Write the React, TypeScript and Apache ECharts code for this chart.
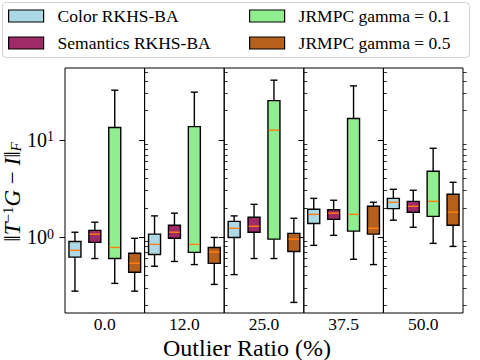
import React, { useEffect, useRef } from 'react';
import * as echarts from 'echarts';

// ---- data ----
const outlierRatios = ['0.0', '12.0', '25.0', '37.5', '50.0'];
const methods = ['Color RKHS-BA', 'Semantics RKHS-BA', 'JRMPC gamma = 0.1', 'JRMPC gamma = 0.5'];
const methodColors = ['#add8e6', '#9e2a67', '#90ee90', '#b5611d'];
// each entry: [min, q1, median, q3, max] per outlier ratio
const colorRkhs = [
  [0.277, 0.62, 0.73, 0.9, 1.12],
  [0.5, 0.66, 0.84, 1.07, 1.65],
  [0.41, 0.99, 1.23, 1.45, 1.65],
  [0.82, 1.38, 1.71, 1.93, 2.5],
  [1.49, 1.96, 2.28, 2.5, 3.1],
];
const semanticsRkhs = [
  [0.6, 0.88, 1.07, 1.17, 1.42],
  [0.56, 0.97, 1.12, 1.32, 1.76],
  [0.6, 1.12, 1.29, 1.6, 2.17],
  [1.04, 1.52, 1.76, 1.91, 2.39],
  [1.26, 1.8, 2.07, 2.33, 3.03],
];
const jrmpcGamma01 = [
  [0.333, 0.6, 0.78, 13.4, 32.5],
  [0.52, 0.695, 0.84, 13.7, 31],
  [0.6, 0.95, 12.6, 25.4, 41.2],
  [0.59, 1.15, 1.71, 16.6, 36],
  [0.86, 1.63, 2.33, 4.76, 8.2],
];
const jrmpcGamma05 = [
  [0.277, 0.433, 0.536, 0.68, 0.97],
  [0.325, 0.535, 0.7, 0.78, 0.99],
  [0.212, 0.71, 0.95, 1.09, 1.56],
  [0.52, 1.07, 1.23, 2.07, 2.28],
  [0.8, 1.32, 1.8, 2.76, 3.66],
];
const seriesData = [colorRkhs, semanticsRkhs, jrmpcGamma01, jrmpcGamma05];
const yMajorTicks = [1, 10];
const yMinorTicks = [0.2, 0.3, 0.4, 0.5, 0.6, 0.7, 0.8, 0.9, 2, 3, 4, 5, 6, 7, 8, 9, 20, 30, 40, 50];
const yMin = 0.165;
const yMax = 55;

const FONT = 'Liberation Serif';

export default function App() {
  const ref = useRef<HTMLDivElement>(null);
  useEffect(() => {
    if (!ref.current) return;
    const chart = echarts.init(ref.current, null, { renderer: 'svg' });
    const plotLeft = 65;
    const plotRight = 463;
    const top = 68;
    const bottom = 313;
    const panelW = (plotRight - plotLeft) / outlierRatios.length;

    const grids: any[] = [];
    const xAxes: any[] = [];
    const yAxes: any[] = [];
    const series: any[] = [];

    outlierRatios.forEach((ratio, i) => {
      grids.push({
        left: plotLeft + i * panelW,
        top,
        width: panelW,
        height: bottom - top,
        show: true,
        borderColor: '#000',
        borderWidth: 1,
        backgroundColor: 'transparent',
      });
      xAxes.push({
        type: 'category',
        gridIndex: i,
        data: methods,
        boundaryGap: true,
        axisLine: { show: false },
        axisTick: { show: false },
        axisLabel: { show: false },
        splitLine: { show: false },
        name: ratio,
        nameLocation: 'middle',
        nameGap: 3,
        nameTextStyle: { fontFamily: FONT, fontSize: 17.5, color: '#000', verticalAlign: 'top', lineHeight: 16 },
      });
      yAxes.push({
        type: 'log',
        logBase: 10,
        gridIndex: i,
        min: yMin,
        max: yMax,
        axisLine: { show: false },
        splitLine: { show: false },
        axisTick: { show: true, length: 5.5, customValues: yMajorTicks, lineStyle: { color: '#000', width: 1 } },
        axisLabel: {
          show: i === 0,
          customValues: yMajorTicks,
          margin: 11,
          formatter: (v: number) => `{b|10}{s|${Math.round(Math.log10(v))}}`,
          rich: {
            b: { fontFamily: FONT, fontSize: 20, color: '#000' },
            s: { fontFamily: FONT, fontSize: 14, color: '#000', verticalAlign: 'top' },
          },
        },
      });
      yAxes.push({
        type: 'log',
        logBase: 10,
        gridIndex: i,
        min: yMin,
        max: yMax,
        axisLine: { show: false },
        splitLine: { show: false },
        axisLabel: { show: false },
        axisTick: { show: true, length: 3.5, customValues: yMinorTicks, lineStyle: { color: '#000', width: 0.8 } },
      });
      methods.forEach((m, k) => {
        const v = seriesData[k][i];
        const color = methodColors[k];
        series.push({
          type: 'custom',
          name: m,
          xAxisIndex: i,
          yAxisIndex: 2 * i,
          itemStyle: { color },
          encode: { x: 0, y: [1, 2, 3, 4, 5] },
          data: [[k, v[0], v[1], v[2], v[3], v[4]]],
          silent: true,
          renderItem: (params: any, api: any) => {
            const x = api.value(0);
            const [cx, yLo] = api.coord([x, api.value(1)]);
            const yQ1 = api.coord([x, api.value(2)])[1];
            const yMed = api.coord([x, api.value(3)])[1];
            const yQ3 = api.coord([x, api.value(4)])[1];
            const yHi = api.coord([x, api.value(5)])[1];
            const bw = 12;
            const cap = 7;
            const lw = 1.4;
            const line = (x1: number, y1: number, x2: number, y2: number, stroke = '#000') => ({
              type: 'line',
              shape: { x1, y1, x2, y2 },
              style: { stroke, lineWidth: lw },
            });
            return {
              type: 'group',
              children: [
                line(cx, yHi, cx, yQ3),
                line(cx, yQ1, cx, yLo),
                line(cx - cap / 2, yHi, cx + cap / 2, yHi),
                line(cx - cap / 2, yLo, cx + cap / 2, yLo),
                {
                  type: 'rect',
                  shape: { x: cx - bw / 2, y: yQ3, width: bw, height: yQ1 - yQ3 },
                  style: { fill: color, stroke: '#000', lineWidth: lw },
                },
                line(cx - bw / 2 + 0.7, yMed, cx + bw / 2 - 0.7, yMed, '#ff7f0e'),
              ],
            };
          },
        });
      });
    });

    const legendCommon = {
      orient: 'vertical',
      top: 6,
      padding: 0,
      itemWidth: 35,
      itemHeight: 12,
      itemGap: 7,
      icon: 'rect',
      itemStyle: { borderColor: '#000', borderWidth: 1.2 },
      textStyle: { fontFamily: FONT, fontSize: 17.5, color: '#000', lineHeight: 20, padding: [0, 0, 0, 9] },
      selectedMode: false,
    };

    chart.setOption({
      animation: false,
      backgroundColor: '#fff',
      grid: grids,
      xAxis: xAxes,
      yAxis: yAxes,
      legend: [
        { ...legendCommon, left: 8, data: [methods[0], methods[1]] },
        { ...legendCommon, left: 249, data: [methods[2], methods[3]] },
      ],
      graphic: [
        {
          type: 'rect',
          z: -1,
          shape: { x: 2.5, y: 2.5, width: 467, height: 55, r: 4 },
          style: { fill: '#fff', stroke: '#d0d0d0', lineWidth: 1 },
        },
        {
          type: 'text',
          x: 247,
          y: 348,
          style: {
            text: 'Outlier Ratio (%)',
            fontFamily: FONT,
            fontSize: 24,
            lineHeight: 20,
            fill: '#000',
            align: 'center',
            verticalAlign: 'middle',
          },
        },
        {
          type: 'text',
          x: 12,
          y: 192,
          rotation: Math.PI / 2,
          style: {
            text: '{n|‖}{i|T}{s|−1}{i|G}{n| − }{i|I}{n|‖}{d|F}',
            align: 'center',
            verticalAlign: 'middle',
            fill: '#000',
            rich: {
              n: { fontFamily: FONT, fontSize: 23, fill: '#000' },
              i: { fontFamily: FONT, fontSize: 23, fontStyle: 'italic', fill: '#000' },
              s: { fontFamily: FONT, fontSize: 15, fill: '#000', verticalAlign: 'top' },
              d: { fontFamily: FONT, fontSize: 15, fontStyle: 'italic', fill: '#000', verticalAlign: 'bottom' },
            },
          },
        },
      ],
      series,
    });
    return () => chart.dispose();
  }, []);
  return <div ref={ref} style={{ width: 480, height: 360, position: 'absolute', left: 0, top: 0 }} />;
}
